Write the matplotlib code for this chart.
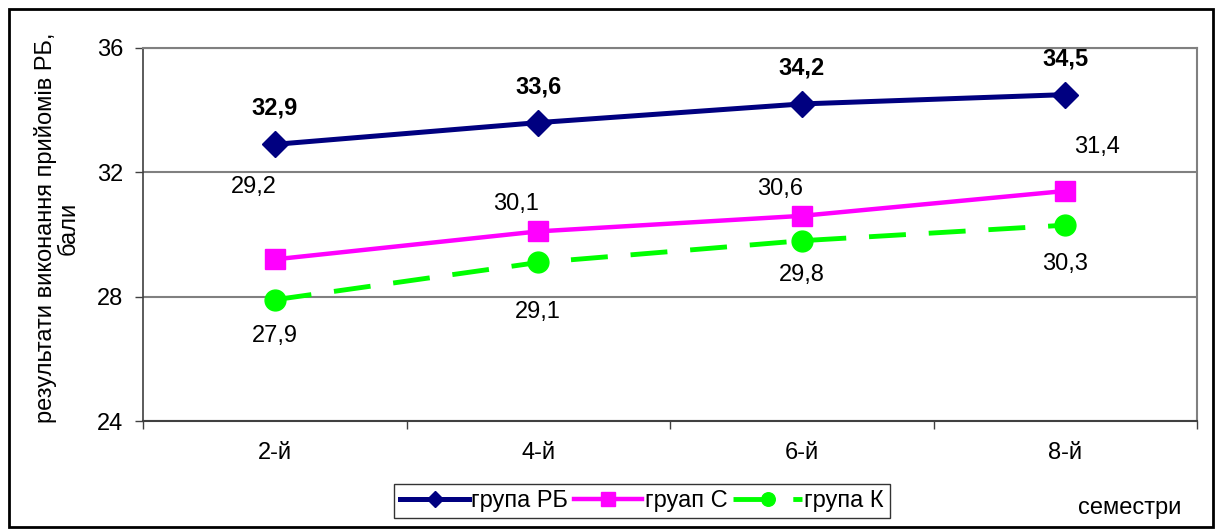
import matplotlib
matplotlib.use("Agg")
import matplotlib.pyplot as plt
from matplotlib.patches import Rectangle

plt.rcParams['font.family'] = ['Liberation Sans', 'DejaVu Sans']

categories = ["2-й", "4-й", "6-й", "8-й"]
rb = [32.9, 33.6, 34.2, 34.5]
s = [29.2, 30.1, 30.6, 31.4]
k = [27.9, 29.1, 29.8, 30.3]
labels_rb = ["32,9", "33,6", "34,2", "34,5"]
labels_s = ["29,2", "30,1", "30,6", "31,4"]
labels_k = ["27,9", "29,1", "29,8", "30,3"]
series_names = ["група РБ", "груап С", "група К"]
yticks = [24, 28, 32, 36]

W, H = 1215, 530
fig = plt.figure(figsize=(W / 100, H / 100), dpi=100)
ax = fig.add_axes([143 / W, 1 - 421 / H, (1197 - 143) / W, (421 - 48) / H])

x = list(range(1, len(categories) + 1))
fs = 17

ax.plot(x, rb, color="#000080", lw=3.6, marker="D", ms=13, label=series_names[0], zorder=5)
ax.plot(x, s, color="#FF00FF", lw=3.2, marker="s", ms=15, label=series_names[1], zorder=4)
ax.plot(x, k, color="#00FF00", lw=3.5, marker="o", ms=15, dashes=(7.6, 4.7),
        label=series_names[2], zorder=3)

# data labels (offsets in pixels)
off_rb = [(0, 36), (0, 36), (0, 36), (0, 36)]
off_s = [(-21, 72), (-22, 27), (-22, 27), (32, 44)]
off_k = [(0, -36), (0, -50), (0, -34), (0, -39)]
for xi, v, t, o in zip(x, rb, labels_rb, off_rb):
    ax.annotate(t, (xi, v), xytext=o, textcoords="offset pixels", ha="center",
                va="center", fontsize=fs, fontweight="bold")
for xi, v, t, o in zip(x, s, labels_s, off_s):
    ax.annotate(t, (xi, v), xytext=o, textcoords="offset pixels", ha="center",
                va="center", fontsize=fs)
for xi, v, t, o in zip(x, k, labels_k, off_k):
    ax.annotate(t, (xi, v), xytext=o, textcoords="offset pixels", ha="center",
                va="center", fontsize=fs)

ax.set_xlim(0.5, len(categories) + 0.5)
ax.set_ylim(24, 36)
ax.set_yticks(yticks)
ax.set_yticklabels([str(t) for t in yticks], fontsize=fs)
ax.set_xticks(x)
ax.set_xticklabels(categories, fontsize=fs)
ax.tick_params(axis="x", which="major", length=0, pad=15)
ax.set_xticks([i + 0.5 for i in range(0, len(categories) + 1)], minor=True)
ax.tick_params(axis="x", which="minor", length=6, width=1, color="#404040", direction="out")
ax.tick_params(axis="y", length=6, width=1, color="#404040", direction="out", pad=8)
ax.grid(axis="y", color="#808080", lw=1.5)
ax.set_axisbelow(True)
for side in ["top", "right"]:
    ax.spines[side].set_color("#808080")
    ax.spines[side].set_linewidth(1.5)
ax.spines["left"].set_color("#404040")
ax.spines["bottom"].set_color("#404040")
ax.spines["left"].set_linewidth(1.2)
ax.spines["bottom"].set_linewidth(1.5)

fig.text(57 / W, 1 - 228 / H, "результати виконання прийомів РБ,\nбали", rotation=90,
         ha="center", va="center", fontsize=fs, multialignment="center", linespacing=1.05)
fig.text(1130 / W, 1 - 508 / H, "семестри", ha="center", va="center", fontsize=fs)

leg = fig.legend(loc="center", bbox_to_anchor=(642 / W, 1 - 501 / H), ncol=3,
                 fontsize=fs, frameon=True, fancybox=False, handlelength=2.9,
                 columnspacing=0.25, handletextpad=0.1, borderpad=0.25, borderaxespad=0,
                 markerscale=0.65)
leg.get_frame().set_edgecolor("black")
leg.get_frame().set_linewidth(1.0)

fig.patches.append(Rectangle((9 / W, 1 - 527 / H), (1213 - 9) / W, (527 - 9) / H,
                             transform=fig.transFigure, fill=False, edgecolor="black",
                             lw=2))

fig.savefig("out.png", dpi=100)
